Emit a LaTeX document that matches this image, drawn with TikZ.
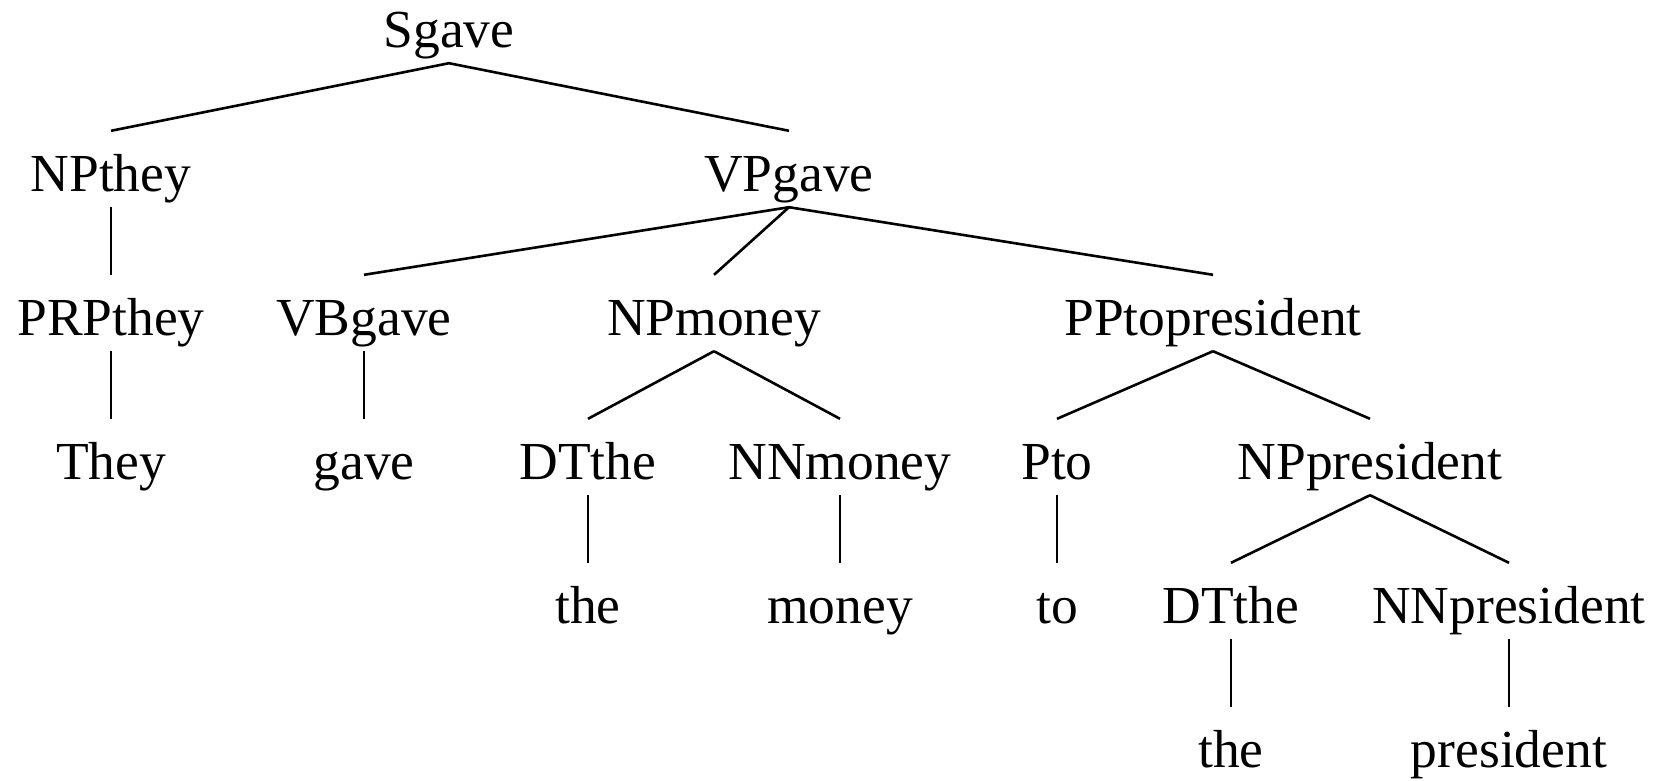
\documentclass[tikz,border=0pt]{standalone}
\usepackage{fontspec}
\setmainfont{Liberation Serif}
\usetikzlibrary{positioning}

\begin{document}
\begin{tikzpicture}[node distance=144pt,
  tag/.style={inner xsep=0pt,inner ysep=8pt,text height=52pt,text depth=8pt,font=\fontsize{53.5}{60}\selectfont},
  branch/.style={line width=2.6pt}]
\useasboundingbox (0,0) rectangle (1656pt,-780pt);
\node[tag](sgave) at (449pt,-25pt){Sgave};
\node[tag,below of=sgave,xshift=-338pt](npthey){NPthey};
\node[tag,below of=sgave,xshift=340pt](vpgave){VPgave};
\node[tag,below of=npthey](prpthey){PRPthey};
\node[tag,below of=prpthey](they){They};
\node[tag,below of=vpgave,xshift=-425pt](vbgave){VBgave};
\node[tag,below of=vpgave,xshift=-75pt](npmoney){NPmoney};
\node[tag,below of=vpgave,xshift=424pt](pptopres){PPtopresident};
\node[tag,below of=vbgave](gave){gave};
\node[tag,below of=npmoney,xshift=-126pt](dtthea){DTthe};
\node[tag,below of=npmoney,xshift=126pt](nnmoney){NNmoney};
\node[tag,below of=dtthea](thea){the};
\node[tag,below of=nnmoney](money){money};
\node[tag,below of=pptopres,xshift=-156pt](pto){Pto};
\node[tag,below of=pptopres,xshift=157pt](nppres){NPpresident};
\node[tag,below of=pto](to){to};
\node[tag,below of=nppres,xshift=-139pt](dttheb){DTthe};
\node[tag,below of=nppres,xshift=139pt](nnpres){NNpresident};
\node[tag,below of=dttheb](theb){the};
\node[tag,below of=nnpres](president){president};

\draw[branch](sgave.south)--(npthey.north);
\draw[branch](sgave.south)--(vpgave.north);
\draw[branch](npthey.south)--(prpthey.north);
\draw[branch](prpthey.south)--(they.north);
\draw[branch](vpgave.south)--(vbgave.north);
\draw[branch](vpgave.south)--(npmoney.north);
\draw[branch](vpgave.south)--(pptopres.north);
\draw[branch](vbgave.south)--(gave.north);
\draw[branch](npmoney.south)--(dtthea.north);
\draw[branch](npmoney.south)--(nnmoney.north);
\draw[branch](dtthea.south)--(thea.north);
\draw[branch](nnmoney.south)--(money.north);
\draw[branch](pptopres.south)--(pto.north);
\draw[branch](pptopres.south)--(nppres.north);
\draw[branch](pto.south)--(to.north);
\draw[branch](nppres.south)--(dttheb.north);
\draw[branch](nppres.south)--(nnpres.north);
\draw[branch](dttheb.south)--(theb.north);
\draw[branch](nnpres.south)--(president.north);
\end{tikzpicture}
\end{document}
